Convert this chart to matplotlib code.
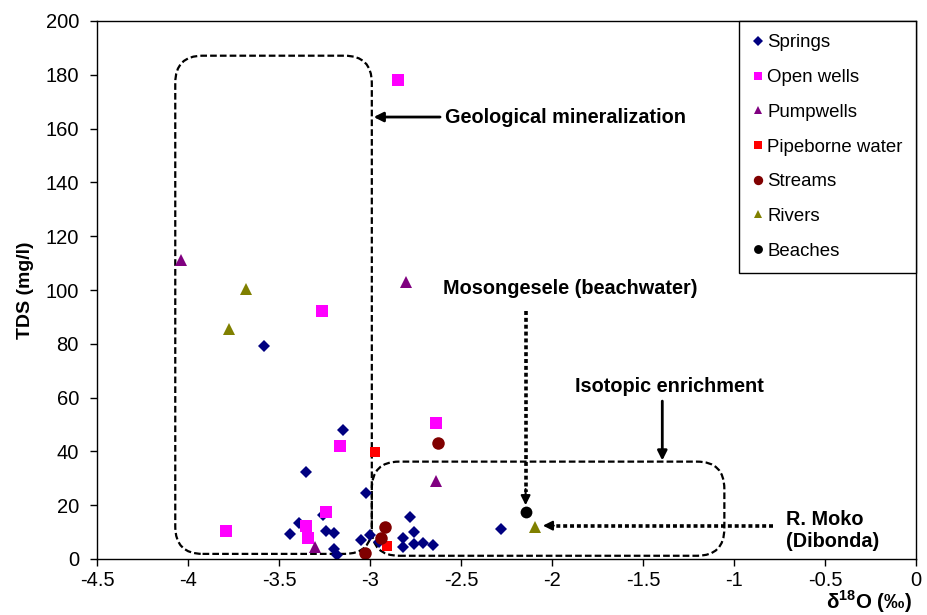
import matplotlib
matplotlib.use("Agg")
import matplotlib.pyplot as plt
from matplotlib.patches import FancyBboxPatch

plt.rcParams["font.family"] = ["Liberation Sans", "DejaVu Sans"]
plt.rcParams["mathtext.fontset"] = "custom"
plt.rcParams["mathtext.rm"] = "Liberation Sans:bold"
plt.rcParams["mathtext.bf"] = "Liberation Sans:bold"

# delta18O (permil) and TDS (mg/l) per sample group
springs_x = [-3.58, -3.15, -3.35, -3.02, -2.78, -2.28, -3.44, -3.39, -3.26, -3.24,
             -3.20, -3.20, -3.18, -3.05, -3.00, -2.95, -2.76, -2.82, -2.82, -2.76,
             -2.71, -2.655]
springs_y = [79, 48, 32.5, 24.6, 15.7, 11.1, 9.2, 13.3, 16.4, 10.4,
             9.6, 3.6, 1.5, 7.1, 8.9, 6.4, 9.9, 7.7, 4.3, 5.6,
             5.8, 5.1]
wells_x = [-3.79, -3.35, -3.34, -3.24, -3.165, -2.635, -2.845, -3.265]
wells_y = [10.4, 12.4, 7.9, 17.6, 42.1, 50.7, 178, 92.2]
pump_x = [-4.04, -2.80, -2.635, -3.30]
pump_y = [111, 103, 29, 4.3]
pipe_x = [-2.975, -2.905]
pipe_y = [39.8, 4.8]
stream_x = [-2.625, -2.92, -2.94, -3.03]
stream_y = [43.2, 11.8, 7.7, 2.1]
river_x = [-3.68, -3.775, -2.095]
river_y = [100.4, 85.5, 12.0]
beach_x = [-2.145]
beach_y = [17.6]

fig = plt.figure(figsize=(9.28, 6.15), dpi=100)
ax = fig.add_axes([97 / 928, 1 - 559 / 615, 819 / 928, 538 / 615])

ax.plot(springs_x, springs_y, "D", color="#000080", ms=6.6, mew=0, label="Springs")
ax.plot(wells_x, wells_y, "s", color="#FF00FF", ms=8.5, mew=0, label="Open wells")
ax.plot(pump_x, pump_y, "^", color="#800080", ms=8.5, mew=0, label="Pumpwells")
ax.plot(pipe_x, pipe_y, "s", color="#FF0000", ms=7.8, mew=0, label="Pipeborne water")
ax.plot(stream_x, stream_y, "o", color="#800000", ms=9, mew=0, label="Streams")
ax.plot(river_x, river_y, "^", color="#808000", ms=8.5, mew=0, label="Rivers")
ax.plot(beach_x, beach_y, "o", color="black", ms=8.5, mew=0, label="Beaches")

ax.set_xlim(-4.5, 0)
ax.set_ylim(0, 200)
ax.set_xticks([-4.5, -4, -3.5, -3, -2.5, -2, -1.5, -1, -0.5, 0])
ax.set_xticklabels(["-4.5", "-4", "-3.5", "-3", "-2.5", "-2", "-1.5", "-1", "-0.5", "0"])
ax.set_yticks(range(0, 201, 20))
ax.tick_params(direction="out", length=5, width=1, labelsize=14.5)
ax.tick_params(axis="x", pad=4)
ax.tick_params(axis="y", pad=8)
for s in ax.spines.values():
    s.set_linewidth(1)

ax.set_ylabel("TDS (mg/l)", fontsize=14, fontweight="bold", labelpad=8)
fig.text(912 / 928, 0.0, r"δ$^{18}$O (‰)", fontsize=14.8, fontweight="bold",
         ha="right", va="bottom")

# dashed rounded boxes, rounding kept circular on screen
aspect = (200 / 538) / (4.5 / 819)
box_kw = dict(boxstyle="round,pad=0,rounding_size=0.15", mutation_aspect=aspect,
              fill=False, edgecolor="black", lw=1.6, linestyle=(0, (3, 1.4)))
ax.add_patch(FancyBboxPatch((-4.07, 1.9), 1.08, 185.2, **box_kw))
ax.add_patch(FancyBboxPatch((-2.99, 1.2), 1.937, 35.0, **box_kw))

bold = dict(fontsize=14.3, fontweight="bold", color="black")

ax.annotate("", xy=(-2.98, 164.3), xytext=(-2.615, 164.3),
            arrowprops=dict(arrowstyle="-|>", color="black", lw=2, mutation_scale=14,
                            shrinkA=0, shrinkB=0))
ax.text(-2.59, 164.3, "Geological mineralization", ha="left", va="center", **bold)

ax.text(-2.60, 100.7, "Mosongesele (beachwater)", ha="left", va="center", **bold)
ax.plot([-2.145, -2.145], [92.2, 25.0], color="black", lw=2.6,
        dashes=(1.1, 0.8), dash_capstyle="butt")
ax.annotate("", xy=(-2.145, 20.0), xytext=(-2.145, 26.0),
            arrowprops=dict(arrowstyle="-|>", color="black", lw=1.5, mutation_scale=14,
                            shrinkA=0, shrinkB=0))

ax.text(-1.875, 64.0, "Isotopic enrichment", ha="left", va="center", **bold)
ax.annotate("", xy=(-1.394, 36.6), xytext=(-1.394, 58.7),
            arrowprops=dict(arrowstyle="-|>", color="black", lw=2, mutation_scale=14,
                            shrinkA=0, shrinkB=0))

ax.text(-0.715, 10.6, "R. Moko\n(Dibonda)", ha="left", va="center", linespacing=1.2, **bold)
ax.plot([-0.786, -2.0], [12.4, 12.4], color="black", lw=2.6,
        dashes=(1.1, 0.8), dash_capstyle="butt")
ax.annotate("", xy=(-2.05, 12.4), xytext=(-1.99, 12.4),
            arrowprops=dict(arrowstyle="-|>", color="black", lw=1.5, mutation_scale=14,
                            shrinkA=0, shrinkB=0))

leg = ax.legend(loc="upper right", bbox_to_anchor=(1, 1), fontsize=13.4, frameon=True,
                fancybox=False, edgecolor="black", framealpha=1, handlelength=0.6,
                handletextpad=0.2, labelspacing=0.95, borderpad=0.72, borderaxespad=0,
                markerscale=0.75)
leg.get_frame().set_linewidth(1)

fig.savefig("out.png", dpi=100)
